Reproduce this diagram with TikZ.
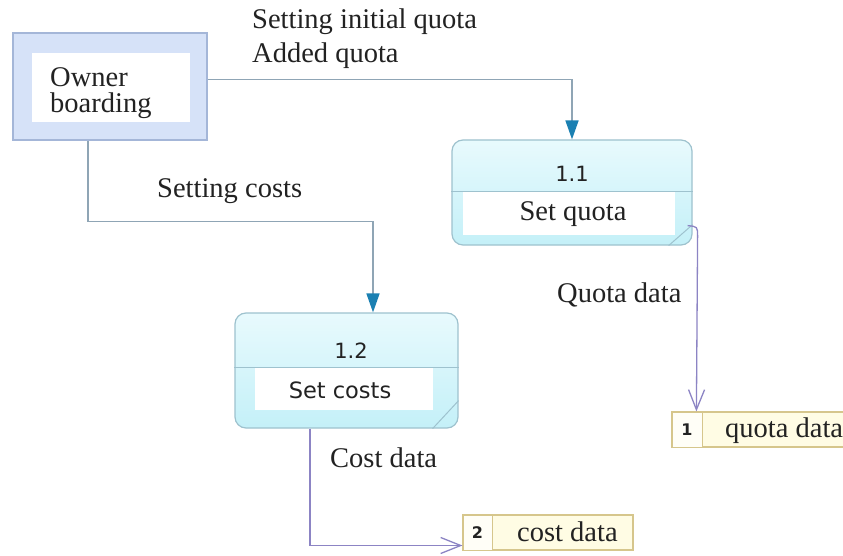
\documentclass[tikz,border=0pt]{standalone}
\usepackage{fontspec}
\setmainfont{Liberation Serif}
\newfontfamily\dvs{DejaVu Sans}
\usetikzlibrary{arrows.meta,calc}
\definecolor{ownfill}{HTML}{D6E2F8}
\definecolor{owndraw}{HTML}{A4B6D8}
\definecolor{procdraw}{HTML}{9EC2CE}
\definecolor{proctop}{HTML}{E8FAFD}
\definecolor{procbot}{HTML}{C4F0F8}
\definecolor{flowline}{HTML}{8FA5B5}
\definecolor{flowhead}{HTML}{1B80B2}
\definecolor{outline}{HTML}{8C84C4}
\definecolor{storefill}{HTML}{FFFCE4}
\definecolor{storedraw}{HTML}{D6C68C}
\definecolor{txt}{HTML}{222222}
\begin{document}
\begin{tikzpicture}[x=1pt,y=-1pt,
  lbl/.style={inner sep=0pt, anchor=base west, text=txt, font=\fontsize{28.5}{30}\selectfont},
  ctr/.style={inner sep=0pt, anchor=base, text=txt},
  ownerbox/.style={draw=owndraw, fill=ownfill, line width=1.2pt, minimum width=194pt, minimum height=107pt, inner sep=0pt},
  whitebox/.style={fill=white, inner sep=0pt},
  procbox/.style={draw=procdraw, line width=1.2pt, rounded corners=11pt, top color=proctop, bottom color=procbot, inner sep=0pt},
  flowA/.style={draw=flowline, line width=1.6pt, -{Triangle[width=13pt,length=19pt,color=flowhead]}},
  flowB/.style={draw=outline, line width=1.3pt, -{Straight Barb[width=16pt,length=20pt]}},
  storebox/.style={draw=storedraw, fill=storefill, line width=1.2pt, inner sep=0pt, minimum height=35pt},
  cellbox/.style={draw=storedraw, fill=white!70!storefill, line width=1pt, inner sep=0pt, minimum height=35pt, minimum width=30pt},
  divline/.style={draw=procdraw, line width=1pt}
]
\useasboundingbox (0,0) rectangle (843,556);
\fill[white] (0,0) rectangle (843,556);

% external entity
\node[ownerbox] (owner) at (110,86.5) {};
\node[whitebox, minimum width=158pt, minimum height=69pt] (ownerin) at (111,87.5) {};
\node[lbl, align=left, font=\fontsize{28.5}{26}\selectfont] (ownertxt) at (50,113) {Owner\\boarding};

% process 1.1
\node[procbox, minimum width=240pt, minimum height=105pt] (p11) at (572,192.5) {};
\node[whitebox, minimum width=212pt, minimum height=43pt] (p11in) at (569,213.5) {};
\draw[divline] (p11.west |- 0,192) -- (p11.east |- 0,192);
\draw[divline] ([xshift=-24pt]p11.south east) -- ([yshift=21pt]p11.south east);
\node[ctr, font=\dvs\fontsize{21}{24}\selectfont] (n11) at (572,182) {1.1};
\node[ctr, font=\fontsize{28.5}{30}\selectfont] (t11) at (573,220) {Set quota};

% process 1.2
\node[procbox, minimum width=223pt, minimum height=115pt] (p12) at (346.5,370.5) {};
\node[whitebox, minimum width=178pt, minimum height=43pt] (p12in) at (344,388.5) {};
\draw[divline] (p12.west |- 0,367) -- (p12.east |- 0,367);
\draw[divline] ([xshift=-26pt]p12.south east) -- ([yshift=28pt]p12.south east);
\node[ctr, font=\dvs\fontsize{21}{24}\selectfont] (n12) at (351,358) {1.2};
\node[ctr, font=\dvs\fontsize{22.5}{26}\selectfont] (t12) at (340,398) {Set costs};

% data store 1
\node[storebox, minimum width=208pt] (s1) at (776,429.5) {};
\node[cellbox] (s1c) at (687,429.5) {};
\node[ctr, font=\dvs\bfseries\fontsize{16}{18}\selectfont] (s1n) at (687,435) {1};
\node[lbl] (s1t) at (725,437) {quota data};

% data store 2
\node[storebox, minimum width=170pt] (s2) at (548,532.5) {};
\node[cellbox, minimum width=29pt] (s2c) at (477.5,532.5) {};
\node[ctr, font=\dvs\bfseries\fontsize{16}{18}\selectfont] (s2n) at (477.5,538) {2};
\node[lbl] (s2t) at (517,541) {cost data};

% flows
\draw[flowA] ([yshift=7pt]owner.east) -| (p11.north);
\draw[flowA] ([xshift=-22pt]owner.south) |- ([xshift=26.5pt,yshift=91pt]p12.north) -- ([xshift=26.5pt]p12.north);
\draw[flowB] ([xshift=-5pt,yshift=20pt]p11.south east) .. controls ([xshift=5pt,yshift=19pt]p11.south east) .. ([xshift=5pt,yshift=9pt]p11.south east) -- ([xshift=25pt]s1.north west);
\draw[flowB] ([xshift=-36.5pt]p12.south) |- ([yshift=-13pt]s2.west);

% flow labels
\node[lbl, align=left, font=\fontsize{28.5}{34}\selectfont] (lA) at (252,63) {Setting initial quota\\Added quota};
\node[lbl] (lB) at (157,198) {Setting costs};
\node[lbl] (lC) at (557,302) {Quota data};
\node[lbl] (lD) at (330,467) {Cost data};
\end{tikzpicture}
\end{document}
